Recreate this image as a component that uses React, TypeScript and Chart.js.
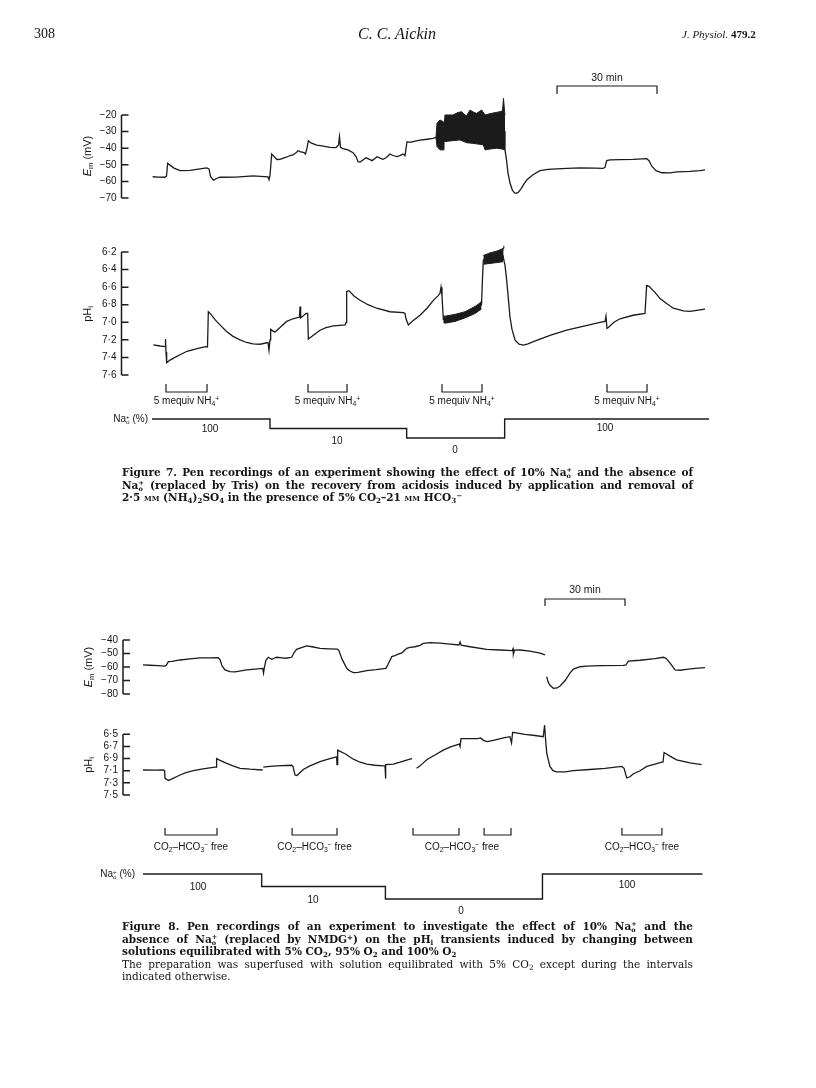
import React, { useEffect, useRef } from "react";
import { Chart, registerables } from "chart.js";

Chart.register(...registerables);

type Pt = [number, number | null];

/* ================= DATA ================= */
/* Figure 7 – x values are minutes from the start of the record */
const fig7EmTrace: Pt[] = [
  [0.2, -57.2], [1.8, -57.4], [3.9, -57.5], [4.35, -56.8], [4.7, -49.1], [5.4, -50.2], [6.6, -52], [8.4, -53.5],
  [11.4, -53.3], [14.4, -52.5], [16.4, -51.9], [17.1, -52.5], [17.55, -57], [18.4, -59.2], [19.2, -58.4], [20.4, -57.5],
  [25.2, -57.4], [30.3, -56.7], [34.8, -57.2], [35.1, -59], [35.4, -56.5], [35.9, -43.5], [36.6, -45], [37.5, -46.8],
  [38.4, -46.7], [39.6, -45.8], [40.5, -45.3], [41.4, -44.4], [42.3, -44.1], [43.2, -42.8], [43.8, -41.5], [44.4, -42.1],
  [45.6, -42.6], [46.05, -43.5], [46.5, -40], [46.9, -35.5], [47.7, -36.8], [49.4, -38.1], [51, -38.6], [53.4, -39.5],
  [55.2, -39.6], [55.95, -38], [56.25, -33], [56.55, -39.5], [57.3, -40.2], [58.8, -41], [60.3, -42.7], [61.2, -45],
  [61.8, -48.1], [62.4, -48.4], [63.3, -47.1], [64.2, -45.8], [65.1, -46.6], [66, -47.5], [66.9, -46.2], [67.5, -45.1],
  [68.4, -46], [69.3, -46.7], [70.2, -45.8], [71.4, -43.5], [72.3, -44.4], [73.5, -45.1], [74.4, -44.5], [75.3, -43.5],
  [75.9, -44.5], [76.5, -36.1], [77.4, -36.5], [78.3, -36], [80.4, -35.1], [82.5, -34.6], [84.3, -34.1], [85.2, -33.5],
  [87.9, -28], [105.9, -30], [105.9, -41], [106.35, -47], [106.8, -55], [107.4, -61], [108.15, -65.5], [108.9, -67.2],
  [109.8, -66.8], [110.7, -64.5], [111.6, -61.5], [112.5, -59], [114.3, -56], [116.4, -53.5], [118.8, -52.7], [121.5, -52.4],
  [124.5, -52.1], [128.4, -51.9], [132.9, -52], [135.3, -52.2], [135.9, -51.5], [136.4, -47.5], [137.4, -47], [140.4, -46.9],
  [144.3, -46.7], [148.4, -46.3], [149.1, -47.5], [150, -51], [151.2, -53.5], [153, -54.8], [155.4, -54.9], [157.5, -54.3],
  [161.4, -54], [164.4, -53.5], [165.9, -53.1],
];
const fig7EmNoiseHigh: Pt[] = [
  [85.2, -33.5], [85.5, -25], [86.4, -23], [87.3, -24], [87.6, -27], [87.9, -20], [90.3, -20], [91.8, -18.5],
  [92.9, -18], [93.6, -19.5], [94.4, -20.6], [95.4, -17], [96.6, -18.5], [97.4, -19], [98.9, -17], [99.9, -20],
  [100.8, -19.5], [101.9, -19], [103.2, -18.5], [104.4, -18], [105.15, -17.5], [105.45, -10], [105.75, -17.5], [105.9, -20],
];
const fig7EmNoiseLow: Pt[] = [
  [85.2, -33.5], [85.5, -39], [86.4, -41], [87.3, -41], [87.6, -36], [87.9, -36], [90, -35.5], [92.4, -35],
  [94.4, -36.7], [96, -37], [97.8, -37.5], [99.4, -38], [99.9, -41], [101.4, -40.5], [103.4, -40], [105, -40.5], [105.9, -41],
];
const fig7PhTrace: Pt[] = [
  [0.4, 7.258], [2.4, 7.27], [3.9, 7.277], [4.05, 7.19], [4.2, 7.34], [4.4, 7.46], [5.4, 7.43], [6.9, 7.4],
  [8.4, 7.37], [10.5, 7.33], [12.4, 7.31], [14.4, 7.29], [16.2, 7.277], [16.65, 7.28], [16.9, 6.88], [17.7, 6.91],
  [18.9, 6.97], [20.4, 7.03], [22.2, 7.1], [24.3, 7.16], [26.4, 7.2], [28.4, 7.23], [30.3, 7.245], [32.4, 7.25],
  [34.8, 7.23], [35.1, 7.32], [35.4, 7.2], [35.6, 7.08], [36.3, 7.1], [36.9, 7.11], [38.4, 7.06], [40.4, 6.99],
  [42.3, 6.96], [44.25, 6.94], [44.4, 6.82], [44.6, 6.95], [46.2, 6.9], [46.7, 6.9], [46.9, 7.19], [48, 7.16],
  [50.4, 7.09], [52.2, 7.06], [54.4, 7.04], [56.4, 7.035], [57.9, 7.03], [58.2, 7.0], [58.4, 6.65], [59.1, 6.64],
  [60.6, 6.7], [62.4, 6.75], [64.8, 6.8], [67.4, 6.84], [71.4, 6.88], [75.4, 6.89], [75.9, 6.9], [76.2, 6.96],
  [76.9, 7.03], [78, 6.99], [80.4, 6.92], [82.5, 6.84], [84.4, 6.75], [85.8, 6.7], [86.4, 6.67], [86.7, 6.6],
  [87, 6.7], [87.4, 6.97], [87.9, 6.97], [93, 6.92], [98.4, 6.82], [98.85, 6.8], [99.15, 6.5], [99.4, 6.29],
  [105.3, 6.24], [105.6, 6.3], [105.9, 6.35], [106.4, 6.52], [106.95, 6.75], [107.4, 6.94], [108, 7.08], [108.9, 7.2],
  [110.1, 7.25], [111.4, 7.26], [112.8, 7.245], [114.4, 7.22], [119.4, 7.15], [124.4, 7.09], [129.9, 7.04], [134.4, 7.0],
  [135.9, 6.99], [136.2, 6.93], [136.5, 7.07], [136.9, 7.06], [138.6, 7.0], [140.4, 6.96], [144.3, 6.92], [147.9, 6.9],
  [148.4, 6.58], [149.1, 6.59], [150.9, 6.66], [152.4, 6.73], [154.5, 6.79], [156.4, 6.84], [159.4, 6.87], [161.4, 6.875],
  [165.9, 6.85],
];
const fig7PhBand1High: Pt[] = [[87.4, 6.93], [87.9, 6.93], [90.9, 6.91], [93.9, 6.88], [96.9, 6.82], [98.4, 6.78], [98.85, 6.76]];
const fig7PhBand1Low: Pt[] = [[87.4, 7.0], [87.9, 7.01], [90.9, 6.99], [93.9, 6.95], [96.9, 6.9], [98.4, 6.86], [98.85, 6.85]];
const fig7PhBand2High: Pt[] = [[99.4, 6.24], [101.4, 6.21], [103.5, 6.19], [105.3, 6.16], [105.55, 6.13]];
const fig7PhBand2Low: Pt[] = [[99.4, 6.34], [101.4, 6.33], [103.5, 6.32], [105.3, 6.31], [105.55, 6.31]];
const fig7Nh4On = [4.2, 46.8, 87, 136.5];
const fig7Nh4Off = [16.5, 58.5, 99, 148.5];
const fig7ScaleBar = [121.5, 151.5];
const fig7NaTimes = [0, 35.4, 76.4, 105.8, 167.1];
const fig7NaPct = [100, 10, 0, 100];
const fig7EmTicks = [-20, -30, -40, -50, -60, -70];
const fig7PhTicks = [6.2, 6.4, 6.6, 6.8, 7.0, 7.2, 7.4, 7.6];

/* Figure 8 */
const fig8EmTrace: Pt[] = [
  [0, -58.5], [2.6, -58.7], [5.6, -59], [8.25, -59.3], [8.8, -58.5], [9.5, -56], [10.9, -55.8], [13.9, -54.8],
  [17.6, -54], [21.4, -53.3], [25.1, -53.2], [28.2, -53.1], [28.9, -54.5], [29.6, -59], [30.75, -62.2], [32.6, -63.5],
  [34.5, -63.6], [38.9, -62.2], [42, -61.6], [44.9, -61], [45.2, -64.5], [45.5, -60.5], [46.1, -55], [47, -52.8],
  [47.6, -53.5], [48.3, -54.3], [49.1, -53.5], [50.1, -52.8], [52.1, -53.2], [53.6, -53.5], [55.8, -52.8], [56.6, -49.5],
  [57.6, -46.9], [58.9, -46], [61.4, -44.4], [63.4, -45], [66.4, -46.2], [69.4, -46.5], [72.9, -46.7], [73.5, -48],
  [74.6, -54], [76.4, -61], [77.6, -63], [78.9, -64.2], [80.6, -64], [83.9, -62.7], [87.4, -62], [91.1, -61],
  [91.9, -58], [93.3, -52.3], [94.5, -51.5], [95.7, -50.4], [97.1, -49.5], [98.9, -46.2], [100.1, -45.5], [102, -45],
  [103.9, -44], [105.1, -42.5], [107.6, -42], [111.4, -42.3], [115.1, -43], [118.5, -43.7], [118.9, -41.5], [119.3, -43.8],
  [122.6, -45], [128.9, -46.9], [133.9, -47.4], [138.4, -47.9], [138.75, -46.5], [138.9, -50.5], [139.3, -47.5], [141.4, -47.4],
  [145.1, -48.3], [148.9, -49.8], [150.75, -51.1], [151.1, null], [151.4, -67.2], [151.9, -71], [152.6, -73.5], [153.9, -75.8],
  [155.3, -75.5], [156.4, -74.1], [158.3, -70], [160.1, -64.5], [161.4, -61.5], [163.9, -59.8], [166.4, -59.3], [171.4, -59],
  [180.1, -58.8], [181.1, -58.5], [182, -55.6], [186.4, -55], [192, -53.8], [195.1, -52.8], [196.1, -53.5], [197.6, -57],
  [199.5, -62.2], [201.4, -62.4], [203.9, -61.7], [207, -61], [210.75, -60.5],
];
const fig8PhTrace: Pt[] = [
  [0, 7.088], [4.5, 7.09], [7.6, 7.088], [8.1, 7.1], [8.25, 7.225], [9.5, 7.26], [10.9, 7.235], [13.9, 7.17],
  [16.1, 7.13], [18.9, 7.1], [22.5, 7.07], [27, 7.04], [27.4, 7.04], [27.6, 6.9], [28.9, 6.93], [31.4, 6.98],
  [33.75, 7.02], [36.4, 7.06], [40.1, 7.075], [44.9, 7.088], [45, null], [45.1, 7.04], [47.6, 7.03], [50.1, 7.02],
  [55.8, 7.01], [56.25, 7.03], [57, 7.17], [57.75, 7.18], [60.1, 7.08], [62.6, 7.02], [66.4, 6.95], [69.4, 6.91],
  [72.6, 6.87], [72.75, 7.0], [72.9, 6.87], [73.1, 6.76], [75.75, 6.82], [78.9, 6.91], [81.4, 6.96], [83.9, 6.99],
  [87, 7.01], [90.1, 7.02], [90.75, 7.02], [90.9, 7.23], [91.1, 7.0], [93.9, 6.99], [96.4, 6.96], [100.1, 6.91],
  [100.9, 6.9], [101.5, null], [102.6, 7.06], [103.9, 7.02], [106.4, 6.92], [109.5, 6.84], [112.6, 6.76], [115.1, 6.71],
  [118.6, 6.66], [118.9, 6.7], [119.25, 6.57], [122.25, 6.57], [125.4, 6.57], [126.6, 6.56], [127.7, 6.6], [129.1, 6.62],
  [132.2, 6.59], [135.2, 6.56], [137.6, 6.54], [138.2, 6.64], [138.6, 6.47], [138.9, 6.47], [143.2, 6.5], [147, 6.52],
  [150.1, 6.54], [150.6, 6.35], [151, 6.6], [151.4, 6.81], [152.6, 7.03], [153.75, 7.1], [155.1, 7.12], [158.3, 7.12],
  [161.4, 7.1], [167.6, 7.08], [173.25, 7.06], [179.5, 7.03], [180.4, 7.06], [181.4, 7.22], [182.6, 7.2], [183.9, 7.15],
  [186.4, 7.1], [188.9, 7.03], [192, 6.99], [194.5, 6.96], [195, 6.96], [195.4, 6.8], [197.6, 6.86], [200.1, 6.92],
  [205.1, 6.97], [209.5, 7.0],
];
const fig8Co2FreeOn = [8.25, 55.9, 101.25, 127.9, 179.6];
const fig8Co2FreeOff = [27.75, 72.75, 118.5, 138, 194.6];
const fig8ScaleBar = [150.75, 180.75];
const fig8NaTimes = [0, 44.5, 90.9, 149.8, 209.8];
const fig8NaPct = [100, 10, 0, 100];
const fig8EmTicks = [-40, -50, -60, -70, -80];
const fig8PhTicks = [6.5, 6.7, 6.9, 7.1, 7.3, 7.5];

const naLevelsShown = [100, 10, 0];

/* ================= LAYOUT / STYLE ================= */
const W = 816;
const H = 1088;
const INK = "#1b1b1b";
const TEXT = "#151515";
const SANS = '"Liberation Sans", Arial, Helvetica, sans-serif';
const SERIF = '"DejaVu Serif", serif';
const TIMES = '"Liberation Serif", "Times New Roman", serif';
const F7 = { x0: 152, ppm: 10 / 3 };
const F8 = { x0: 143, ppm: 8 / 3 };

function xRange(x0: number, ppm: number) {
  return { min: -x0 / ppm, max: (W - x0) / ppm };
}
function yRange(v1: number, p1: number, v2: number, p2: number) {
  const s = (p2 - p1) / (v2 - v1);
  const a = v1 - p1 / s;
  const b = v1 + (H - p1) / s;
  return s < 0 ? { min: b, max: a, reverse: false } : { min: a, max: b, reverse: true };
}
const lin = (o: any, axis: string) => ({
  type: "linear",
  display: false,
  axis,
  position: axis === "x" ? "bottom" : "left",
  ...o,
});

const toXY = (arr: Pt[]) => arr.map(([x, y]) => ({ x, y }));
const ds = (data: any[], xAxisID: string, yAxisID: string, extra: any = {}) => ({
  type: "line",
  data,
  xAxisID,
  yAxisID,
  borderColor: INK,
  backgroundColor: INK,
  borderWidth: 1.3,
  pointRadius: 0,
  pointHoverRadius: 0,
  tension: 0,
  fill: false,
  spanGaps: false,
  ...extra,
});
const bracketData = (on: number[], off: number[]) =>
  on.flatMap((a, i) => [
    { x: a, y: 1 },
    { x: a, y: 0 },
    { x: off[i], y: 0 },
    { x: off[i], y: 1 },
    { x: off[i], y: null },
  ]);
const naData = (times: number[], pct: number[]) =>
  times.map((t, i) => ({ x: t, y: naLevelsShown.indexOf(pct[Math.min(i, pct.length - 1)]) }));

const fmtEm = (v: number) => (v < 0 ? "\u2212" + Math.abs(v) : String(v));
const fmtPh = (v: number) => v.toFixed(1).replace(".", "\u00b7");

const AXES = [
  { scale: "em7", x: 121.5, ticks: fig7EmTicks, fmt: fmtEm },
  { scale: "ph7", x: 121.5, ticks: fig7PhTicks, fmt: fmtPh },
  { scale: "em8", x: 123, ticks: fig8EmTicks, fmt: fmtEm },
  { scale: "ph8", x: 123, ticks: fig8PhTicks, fmt: fmtPh },
];

const penAxes = {
  id: "penAxes",
  afterDatasetsDraw(chart: any) {
    const ctx = chart.ctx;
    AXES.forEach((ax) => {
      const sc = chart.scales[ax.scale];
      const ys = ax.ticks.map((v) => sc.getPixelForValue(v));
      ctx.save();
      ctx.strokeStyle = INK;
      ctx.lineWidth = 1.5;
      ctx.beginPath();
      ctx.moveTo(ax.x, Math.min(...ys));
      ctx.lineTo(ax.x, Math.max(...ys));
      ys.forEach((y: number) => {
        ctx.moveTo(ax.x, y);
        ctx.lineTo(ax.x + 7, y);
      });
      ctx.stroke();
      ctx.fillStyle = TEXT;
      ctx.font = "10px " + SANS;
      ctx.textAlign = "right";
      ctx.textBaseline = "middle";
      ax.ticks.forEach((v, i) => ctx.fillText(ax.fmt(v), ax.x - 5, ys[i]));
      ctx.restore();
    });
  },
};

/* ================= TEXT HELPERS ================= */
const Txt = ({ x, y, children, align = "center", size = 10, font = SANS, style = {} }: any) => (
  <div
    style={{
      position: "absolute",
      left: x,
      top: y,
      transform: `translate(${align === "center" ? "-50%" : align === "right" ? "-100%" : "0"}, -50%)`,
      whiteSpace: "nowrap",
      fontFamily: font,
      fontSize: size,
      color: TEXT,
      lineHeight: 1,
      ...style,
    }}
  >
    {children}
  </div>
);
const Sub = ({ children }: any) => (
  <span style={{ fontSize: "0.68em", verticalAlign: "-0.3em", lineHeight: 0 }}>{children}</span>
);
const Sup = ({ children }: any) => (
  <span style={{ fontSize: "0.68em", verticalAlign: "0.45em", lineHeight: 0 }}>{children}</span>
);
const NaO = () => (
  <span>
    Na
    <span
      style={{
        display: "inline-block",
        verticalAlign: "-0.3em",
        fontSize: "0.62em",
        lineHeight: "0.85em",
        textAlign: "center",
      }}
    >
      +<br />o
    </span>
  </span>
);
const MM = () => <span style={{ fontVariant: "small-caps" }}>mm</span>;
const NH4 = () => (
  <span>
    NH<Sub>4</Sub>
    <Sup>+</Sup>
  </span>
);
const CO2Free = () => (
  <span>
    CO<Sub>2</Sub>–HCO<Sub>3</Sub>
    <Sup>−</Sup> free
  </span>
);
const Rot = ({ x, y, children }: any) => (
  <div
    style={{
      position: "absolute",
      left: x,
      top: y,
      transform: "translate(-50%, -50%) rotate(-90deg)",
      whiteSpace: "nowrap",
      fontFamily: SANS,
      fontSize: 11,
      color: TEXT,
      lineHeight: 1,
    }}
  >
    {children}
  </div>
);
const LH = 12.6;
const CapLine = ({ children, last = false, bold = true }: any) => (
  <div
    style={{
      height: LH,
      lineHeight: LH + "px",
      textAlign: last ? "left" : "justify",
      textAlignLast: last ? "left" : "justify",
      fontWeight: bold ? 700 : 400,
    }}
  >
    {children}
  </div>
);
const Caption = ({ top, children }: any) => (
  <div
    style={{
      position: "absolute",
      left: 122,
      top,
      width: 571,
      fontFamily: SERIF,
      fontSize: 10.5,
      color: TEXT,
    }}
  >
    {children}
  </div>
);

const px7 = (t: number) => F7.x0 + t * F7.ppm;
const px8 = (t: number) => F8.x0 + t * F8.ppm;

export default function App() {
  const ref = useRef<HTMLCanvasElement | null>(null);

  useEffect(() => {
    if (!ref.current) return;
    const datasets: any[] = [
      // Figure 7
      ds(toXY(fig7EmTrace), "x7", "em7"),
      ds(toXY(fig7EmNoiseHigh), "x7", "em7", { borderWidth: 1 }),
      ds(toXY(fig7EmNoiseLow), "x7", "em7", { borderWidth: 1, fill: "-1" }),
      ds(toXY(fig7PhTrace), "x7", "ph7"),
      ds(toXY(fig7PhBand1High), "x7", "ph7", { borderWidth: 1 }),
      ds(toXY(fig7PhBand1Low), "x7", "ph7", { borderWidth: 1, fill: "-1" }),
      ds(toXY(fig7PhBand2High), "x7", "ph7", { borderWidth: 1 }),
      ds(toXY(fig7PhBand2Low), "x7", "ph7", { borderWidth: 1, fill: "-1" }),
      ds(bracketData(fig7Nh4On, fig7Nh4Off), "x7", "br7", { borderWidth: 1.2 }),
      ds(bracketData([fig7ScaleBar[0]], [fig7ScaleBar[1]]), "x7", "sb7", { borderWidth: 1.2 }),
      ds(naData(fig7NaTimes, fig7NaPct), "x7", "na7", { stepped: true, borderWidth: 1.4 }),
      // Figure 8
      ds(toXY(fig8EmTrace), "x8", "em8"),
      ds(toXY(fig8PhTrace), "x8", "ph8"),
      ds(bracketData(fig8Co2FreeOn, fig8Co2FreeOff), "x8", "br8", { borderWidth: 1.2 }),
      ds(bracketData([fig8ScaleBar[0]], [fig8ScaleBar[1]]), "x8", "sb8", { borderWidth: 1.2 }),
      ds(naData(fig8NaTimes, fig8NaPct), "x8", "na8", { stepped: true, borderWidth: 1.4 }),
    ];
    const chart = new Chart(ref.current, {
      type: "line",
      data: { datasets },
      options: {
        responsive: false,
        maintainAspectRatio: false,
        animation: false,
        devicePixelRatio: 1,
        events: [],
        layout: { padding: 0 },
        plugins: { legend: { display: false }, tooltip: { enabled: false } },
        scales: {
          x7: lin(xRange(F7.x0, F7.ppm), "x"),
          x8: lin(xRange(F8.x0, F8.ppm), "x"),
          em7: lin(yRange(-20, 115, -70, 198), "y"),
          ph7: lin(yRange(6.2, 252, 7.6, 375), "y"),
          br7: lin(yRange(0, 392, 1, 384), "y"),
          sb7: lin(yRange(0, 86, 1, 94), "y"),
          na7: lin(yRange(0, 419, 2, 438), "y"),
          em8: lin(yRange(-40, 640, -80, 694), "y"),
          ph8: lin(yRange(6.5, 734.3, 7.5, 795), "y"),
          br8: lin(yRange(0, 835, 1, 828), "y"),
          sb8: lin(yRange(0, 599, 1, 606), "y"),
          na8: lin(yRange(0, 874, 2, 899), "y"),
        },
      } as any,
      plugins: [penAxes as any],
    } as any);
    return () => chart.destroy();
  }, []);

  return (
    <div style={{ position: "absolute", left: 0, top: 0, width: W, height: H, background: "#fff", overflow: "hidden" }}>
      <canvas ref={ref} width={W} height={H} style={{ position: "absolute", left: 0, top: 0, width: W, height: H }} />

      {/* page header */}
      <Txt x={34} y={34} align="left" size={14} font={TIMES}>308</Txt>
      <Txt x={397} y={34} size={16} font={TIMES} style={{ fontStyle: "italic" }}>C. C. Aickin</Txt>
      <Txt x={682} y={34} align="left" size={11} font={TIMES}>
        <i>J. Physiol.</i> <b>479.2</b>
      </Txt>

      {/* Figure 7 */}
      <Txt x={px7((fig7ScaleBar[0] + fig7ScaleBar[1]) / 2)} y={77} size={10.5}>30 min</Txt>
      <Rot x={87} y={156}>
        <i>E</i><Sub>m</Sub> (mV)
      </Rot>
      <Rot x={87} y={314}>
        pH<Sub>i</Sub>
      </Rot>
      {fig7Nh4On.map((a, i) => (
        <Txt key={"n" + i} x={px7((a + fig7Nh4Off[i]) / 2)} y={401} size={10}>
          5 mequiv <NH4 />
        </Txt>
      ))}
      <Txt x={148} y={419} align="right" size={10}>
        <NaO /> (%)
      </Txt>
      <Txt x={210} y={429} size={10}>100</Txt>
      <Txt x={337} y={441} size={10}>10</Txt>
      <Txt x={455} y={450} size={10}>0</Txt>
      <Txt x={605} y={428} size={10}>100</Txt>

      <Caption top={466}>
        <CapLine>
          Figure 7. Pen recordings of an experiment showing the effect of 10% <NaO /> and the absence of
        </CapLine>
        <CapLine>
          <NaO /> (replaced by Tris) on the recovery from acidosis induced by application and removal of
        </CapLine>
        <CapLine last>
          2·5 <MM /> (NH<Sub>4</Sub>)<Sub>2</Sub>SO<Sub>4</Sub> in the presence of 5% CO<Sub>2</Sub>–21 <MM /> HCO<Sub>3</Sub>
          <Sup>−</Sup>
        </CapLine>
      </Caption>

      {/* Figure 8 */}
      <Txt x={px8((fig8ScaleBar[0] + fig8ScaleBar[1]) / 2)} y={589} size={10.5}>30 min</Txt>
      <Rot x={88} y={667}>
        <i>E</i><Sub>m</Sub> (mV)
      </Rot>
      <Rot x={88} y={765}>
        pH<Sub>i</Sub>
      </Rot>
      <Txt x={px8((fig8Co2FreeOn[0] + fig8Co2FreeOff[0]) / 2)} y={847} size={10}><CO2Free /></Txt>
      <Txt x={px8((fig8Co2FreeOn[1] + fig8Co2FreeOff[1]) / 2)} y={847} size={10}><CO2Free /></Txt>
      <Txt x={px8((fig8Co2FreeOn[2] + fig8Co2FreeOff[3]) / 2)} y={847} size={10}><CO2Free /></Txt>
      <Txt x={px8((fig8Co2FreeOn[4] + fig8Co2FreeOff[4]) / 2)} y={847} size={10}><CO2Free /></Txt>
      <Txt x={135} y={874} align="right" size={10}>
        <NaO /> (%)
      </Txt>
      <Txt x={198} y={887} size={10}>100</Txt>
      <Txt x={313} y={900} size={10}>10</Txt>
      <Txt x={461} y={911} size={10}>0</Txt>
      <Txt x={627} y={885} size={10}>100</Txt>

      <Caption top={920}>
        <CapLine>
          Figure 8. Pen recordings of an experiment to investigate the effect of 10% <NaO /> and the
        </CapLine>
        <CapLine>
          absence of <NaO /> (replaced by NMDG<Sup>+</Sup>) on the pH<Sub>i</Sub> transients induced by changing between
        </CapLine>
        <CapLine last>
          solutions equilibrated with 5% CO<Sub>2</Sub>, 95% O<Sub>2</Sub> and 100% O<Sub>2</Sub>
        </CapLine>
        <CapLine bold={false}>
          The preparation was superfused with solution equilibrated with 5% CO<Sub>2</Sub> except during the intervals
        </CapLine>
        <CapLine last bold={false}>
          indicated otherwise.
        </CapLine>
      </Caption>
    </div>
  );
}
